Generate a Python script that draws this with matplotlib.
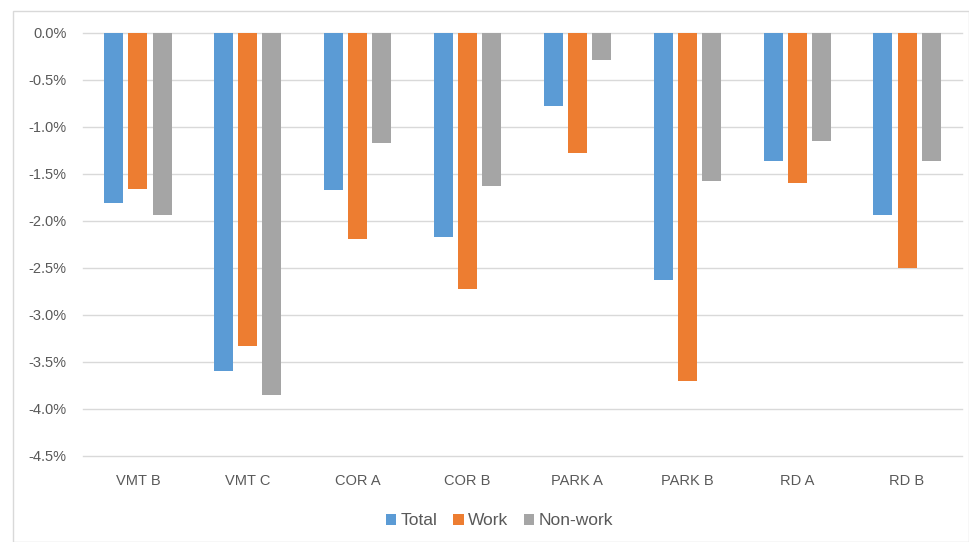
import numpy as np
import matplotlib.pyplot as plt
from matplotlib.patches import Rectangle
from matplotlib.ticker import FuncFormatter

# datos (cambio en %)
categorias = ["VMT B", "VMT C", "COR A", "COR B", "PARK A", "PARK B", "RD A", "RD B"]
total = [-1.81, -3.60, -1.68, -2.18, -0.78, -2.63, -1.37, -1.94]
work = [-1.67, -3.34, -2.20, -2.73, -1.28, -3.71, -1.60, -2.50]
nonwork = [-1.94, -3.86, -1.18, -1.63, -0.29, -1.58, -1.15, -1.37]

plt.rcParams['font.family'] = ['Liberation Sans', 'DejaVu Sans']

fig = plt.figure(figsize=(9.7, 5.42), dpi=100)
ax = fig.add_axes([83 / 970, (542 - 455.5) / 542, (962 - 83) / 970, 423 / 542])

# borde del area del grafico
fig.patches.append(Rectangle((13 / 970, 0.5 / 542), 956 / 970, 531 / 542,
                             transform=fig.transFigure, fill=False,
                             edgecolor='#D9D9D9', linewidth=1))

x = np.arange(len(categorias))
w = 0.173
d = 0.22
ax.bar(x - d, total, w, color='#5B9BD5', label='Total', zorder=3)
ax.bar(x, work, w, color='#ED7D31', label='Work', zorder=3)
ax.bar(x + d, nonwork, w, color='#A5A5A5', label='Non-work', zorder=3)

ax.set_ylim(-4.5, 0)
ax.set_xlim(-0.5, len(categorias) - 0.5)
ax.set_yticks(np.arange(-4.5, 0.01, 0.5))
ax.yaxis.set_major_formatter(FuncFormatter(lambda v, p: f"{v:.1f}%"))
ax.grid(axis='y', color='#D9D9D9', linewidth=1, zorder=0)
for gl in ax.get_ygridlines():
    gl.set_clip_on(False)
for s in ax.spines.values():
    s.set_visible(False)
ax.tick_params(axis='both', length=0, colors='#595959', labelsize=10.5)
ax.tick_params(axis='y', pad=12)
ax.tick_params(axis='x', pad=13)
ax.set_xticks(x)
ax.set_xticklabels(categorias)

ax.legend(loc='upper center', bbox_to_anchor=(0.474, -0.1), ncol=3, frameon=False,
          fontsize=12.5, handlelength=0.6, handleheight=0.6, handletextpad=0.25,
          columnspacing=0.9, labelcolor='#595959')

fig.savefig("out.png", dpi=100)
